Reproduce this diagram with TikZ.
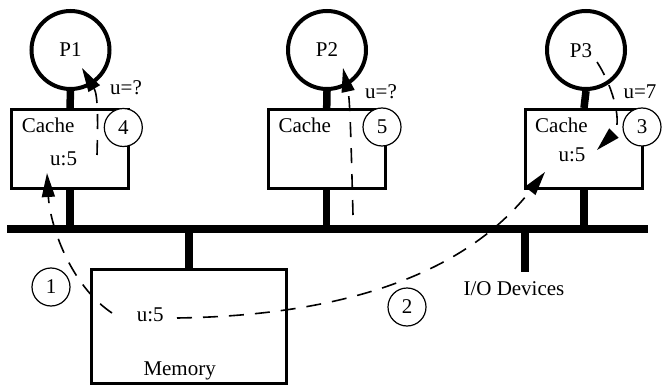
\documentclass[tikz,border=0pt]{standalone}
\usepackage{fontspec}
\setmainfont{Liberation Serif}
\usetikzlibrary{arrows.meta}
\begin{document}
\begin{tikzpicture}[x=1pt,y=-1pt,
 txt/.style={font=\fontsize{21}{25}\selectfont, inner sep=0pt, anchor=base west},
 proc/.style={circle, draw, line width=4pt, minimum size=78pt, inner sep=0pt, font=\fontsize{21}{25}\selectfont},
 cachebox/.style={draw, line width=3pt, minimum width=117pt, minimum height=79pt, inner sep=0pt},
 membox/.style={draw, line width=3pt, minimum width=195pt, minimum height=114pt, inner sep=0pt},
 stem/.style={line width=7.5pt},
 busline/.style={line width=8pt},
 num/.style={circle, draw, fill=white, line width=1.2pt, minimum size=38pt, inner sep=0pt, font=\fontsize{21}{25}\selectfont},
 flow/.style={dash pattern=on 15pt off 11pt, line width=1.6pt, -{Triangle[length=24pt,width=13pt]}}
]
\useasboundingbox (0,0) rectangle (668,387);
% bus
\coordinate (busL) at (7,229);
\coordinate (busR) at (648,229);
\draw[busline] (busL) -- (busR);
% processors and caches
\node[proc] (p1) at (70.5,50) {P1};
\node[proc] (p2) at (327,50) {P2};
\node[proc] (p3) at (586,50) {};
\node[txt, anchor=base] (p3t) at (581,57.3) {P3};
\node[cachebox] (c1) at (70,149) {};
\node[cachebox] (c2) at (326.7,149) {};
\node[cachebox] (c3) at (584,149) {};
\draw[stem] (p1.south) -- (c1.north);
\draw[stem] (p2.south) -- (c2.north);
\draw[stem] (p3.south) -- (c3.north);
\draw[stem] (c1.south) -- (c1.south |- busL);
\draw[stem] (c2.south) -- (c2.south |- busL);
\draw[stem] (c3.south) -- (c3.south |- busL);
\node[txt] (c1l) at (21.7,132.3) {Cache};
\node[txt] (c1u) at (50,165.7) {u:5};
\node[txt] (c2l) at (278.3,132.3) {Cache};
\node[txt] (c3l) at (535,132.3) {Cache};
\node[txt] (c3u) at (558.3,161.7) {u:5};
\node[txt] (q1) at (110,94.3) {u=?};
\node[txt] (q2) at (365,99) {u=?};
\node[txt] (q3) at (623.3,99) {u=7};
% memory
\node[membox] (mem) at (189,326.5) {};
\draw[stem] (mem.north) -- (mem.north |- busL);
\node[txt] (memu) at (136.7,321.7) {u:5};
\node[txt] (meml) at (143.3,375) {Memory};
% I/O
\coordinate (io) at (525,229);
\coordinate (ioe) at (525,272);
\draw[stem] (io) -- (ioe);
\node[txt] (iol) at (463.3,295) {I/O Devices};
% flows
\coordinate (a1s) at (112,313);
\coordinate (a1e) at (47,173);
\coordinate (a2s) at (177,318);
\coordinate (a2e) at (545,172);
\coordinate (a3s) at (597,62);
\coordinate (a3e) at (597,150);
\coordinate (a4s) at (97,155);
\coordinate (a4e) at (82,68);
\coordinate (a5s) at (353,215);
\coordinate (a5e) at (343,68);
\draw[flow] (a1s) .. controls (70,285) and (50,225) .. (a1e);
\draw[flow] (a2s) .. controls (380,315) and (480,255) .. (a2e);
\draw[flow] (a3s) .. controls (615,90) and (622,125) .. (a3e);
\draw[flow] (a4s) .. controls (98,120) and (98,95) .. (a4e);
\draw[flow] (a5s) .. controls (351,140) and (350,100) .. (a5e);
% step numbers
\node[num] (n1) at (51,287) {1};
\node[num] (n2) at (407,307) {2};
\node[num] (n3) at (642,127) {3};
\node[num] (n4) at (123.3,127.5) {4};
\node[num] (n5) at (382,127) {5};
\end{tikzpicture}
\end{document}
